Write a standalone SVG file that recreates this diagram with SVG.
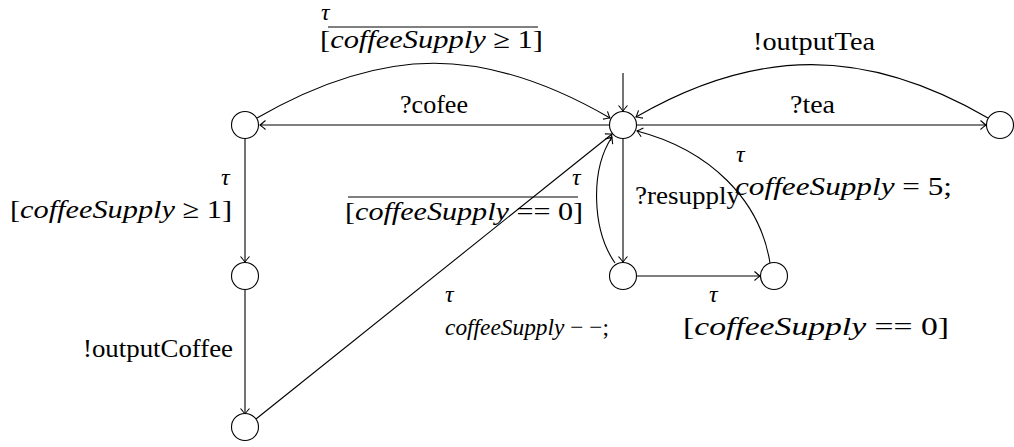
<svg xmlns="http://www.w3.org/2000/svg" width="1014" height="447" viewBox="0 0 1014 447">
<style>
.st{fill:#fff;stroke:#000;stroke-width:1.1}
.e{fill:none;stroke:#000;stroke-width:1.1;marker-end:url(#arr)}
.i{font-style:italic}
.tau{font-style:italic;font-size:24px}
.ov{stroke:#000;stroke-width:1}
</style>
<defs>
<marker id="arr" viewBox="-7 -6 8 12" markerWidth="8" markerHeight="12" refX="0" refY="0" orient="auto" markerUnits="userSpaceOnUse">
<path d="M-5.5,-4.5 Q-1.5,-1 0,0 Q-1.5,1 -5.5,4.5" fill="none" stroke="#000" stroke-width="1.1"/>
</marker>
</defs>
<rect width="1014" height="447" fill="#fff"/>
<g id="labels" font-family="'Liberation Serif', 'DejaVu Serif', serif" font-size="26" fill="#000">
<text x="321" y="20" class="tau">τ</text>
<text x="320" y="48" textLength="223" lengthAdjust="spacingAndGlyphs">[<tspan class="i">coffeeSupply</tspan> ≥ 1]</text>
<line class="ov" x1="328" y1="27" x2="538" y2="27"/>
<text x="400" y="113" textLength="68" lengthAdjust="spacingAndGlyphs">?cofee</text>
<text x="753" y="50" textLength="122" lengthAdjust="spacingAndGlyphs">!outputTea</text>
<text x="790" y="113" textLength="45" lengthAdjust="spacingAndGlyphs">?tea</text>
<text x="221" y="185" class="tau">τ</text>
<text x="10" y="218" textLength="222" lengthAdjust="spacingAndGlyphs">[<tspan class="i">coffeeSupply</tspan> ≥ 1]</text>
<text x="83" y="357" textLength="150" lengthAdjust="spacingAndGlyphs">!outputCoffee</text>
<text x="572" y="185" class="tau">τ</text>
<text x="345" y="220" textLength="238" lengthAdjust="spacingAndGlyphs">[<tspan class="i">coffeeSupply</tspan> == 0]</text>
<line class="ov" x1="348" y1="197" x2="578" y2="197"/>
<text x="635" y="204" textLength="105" lengthAdjust="spacingAndGlyphs">?resupply</text>
<text x="736" y="162" class="tau">τ</text>
<text x="735" y="195" textLength="217" lengthAdjust="spacingAndGlyphs"><tspan class="i">coffeeSupply</tspan> = 5;</text>
<text x="445" y="302" class="tau">τ</text>
<text x="445" y="335" font-size="24" textLength="164" lengthAdjust="spacingAndGlyphs"><tspan class="i">coffeeSupply</tspan> − −;</text>
<text x="709" y="302" class="tau">τ</text>
<text x="683" y="335" textLength="266" lengthAdjust="spacingAndGlyphs">[<tspan class="i">coffeeSupply</tspan> == 0]</text>
</g>
<g id="edges">
<line class="e" x1="623" y1="73" x2="623" y2="111"/>
<path class="e" d="M257,118 C384,45 484,45 610,118"/>
<line class="e" x1="609" y1="125" x2="260" y2="125"/>
<path class="e" d="M988,118 C866,47 757,47 636,117"/>
<line class="e" x1="637" y1="125" x2="986" y2="125"/>
<line class="e" x1="245" y1="139" x2="245" y2="262"/>
<line class="e" x1="245" y1="290" x2="245" y2="414"/>
<line class="e" x1="256" y1="419" x2="612" y2="134"/>
<line class="e" x1="623" y1="139" x2="623" y2="262"/>
<path class="e" d="M615,263 C592,230 590,170 612,137"/>
<line class="e" x1="637" y1="276" x2="760" y2="276"/>
<path class="e" d="M770,263 C760,200 710,150 637,131"/>
</g>
<g id="n_coffee"><circle class="st" cx="245" cy="125" r="13.5"/></g>
<g id="n_init"><circle class="st" cx="623" cy="125" r="13.5"/></g>
<g id="n_tea"><circle class="st" cx="1000" cy="125" r="13.5"/></g>
<g id="n_coffee2"><circle class="st" cx="245" cy="276" r="13.5"/></g>
<g id="n_coffee3"><circle class="st" cx="245" cy="427" r="13.5"/></g>
<g id="n_resupply"><circle class="st" cx="623" cy="276" r="13.5"/></g>
<g id="n_empty"><circle class="st" cx="774" cy="276" r="13.5"/></g>
</svg>
